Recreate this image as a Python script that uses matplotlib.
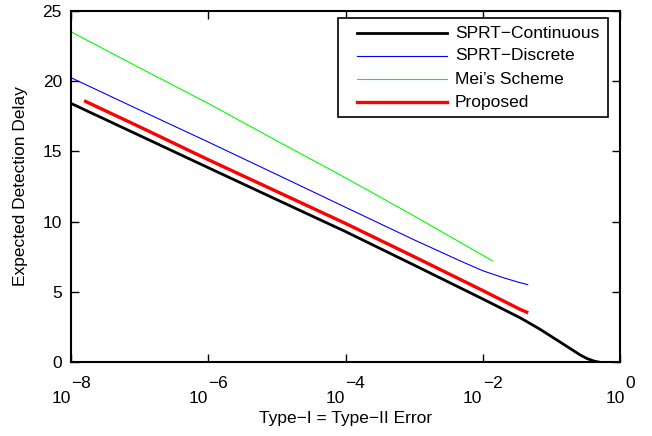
import numpy as np
import matplotlib
matplotlib.use('Agg')
import matplotlib.pyplot as plt
from matplotlib.lines import Line2D
from matplotlib.patches import Rectangle
import matplotlib.ticker as mticker

plt.rcParams['font.family'] = ['Liberation Sans', 'DejaVu Sans']

# ---------------- data ----------------
alpha_cont = [1e-8, 1e-7, 1e-6, 1e-5, 1e-4, 1e-3, 1e-2, 0.02, 0.035, 0.046,
              0.07, 0.12, 0.18, 0.263, 0.33, 0.41, 0.47, 0.5]
delay_cont = [18.42, 16.13, 13.84, 11.56, 9.29, 6.9, 4.49, 3.75, 3.15, 2.82,
              2.3, 1.57, 1.02, 0.5, 0.25, 0.08, 0.01, 0.0]

alpha_disc = [1e-8, 1e-7, 1e-6, 1e-5, 1e-4, 1e-3, 0.0047, 1e-2, 0.02, 0.035, 0.046]
delay_disc = [20.25, 17.95, 15.67, 13.35, 11.02, 8.7, 7.2, 6.5, 6.0, 5.65, 5.5]

alpha_mei = [1e-8, 1e-7, 1e-6, 1e-5, 1e-4, 1e-3, 1e-2, 0.014]
delay_mei = [23.52, 20.95, 18.42, 15.75, 13.12, 10.4, 7.6, 7.2]

alpha_prop = [1.55e-8, 1e-7, 1e-6, 1e-5, 1e-4, 1e-3, 1e-2, 0.035, 0.046]
delay_prop = [18.61, 16.75, 14.41, 12.14, 9.87, 7.5, 5.09, 3.75, 3.5]

series_labels = ['SPRT\u2212Continuous', 'SPRT\u2212Discrete', 'Mei\u2019s Scheme', 'Proposed']
series_colors = ['#000000', '#0000ff', '#00ff00', '#ff0000']
series_widths = [2.0, 0.8, 0.8, 2.4]

xtick_exps = [-8, -6, -4, -2, 0]
yticks = [0, 5, 10, 15, 20, 25]

xlabel = 'Type\u2212I = Type\u2212II Error'
ylabel = 'Expected Detection Delay'

FS = 12.5

# ---------------- figure ----------------
W, H = 652, 436
fig = plt.figure(figsize=(W / 100, H / 100), dpi=100)
ax = fig.add_axes([71 / W, 1 - 362 / H, (620 - 71) / W, (362 - 11) / H])

data = [(alpha_cont, delay_cont), (alpha_disc, delay_disc),
        (alpha_mei, delay_mei), (alpha_prop, delay_prop)]
for (xs, ys), c, lw in zip(data, series_colors, series_widths):
    ax.plot(xs, ys, color=c, lw=lw, solid_capstyle='butt')

ax.set_xscale('log')
ax.set_xlim(1e-8, 1)
ax.set_ylim(0, 25)
ax.set_xticks([10.0 ** e for e in xtick_exps])
ax.xaxis.set_minor_locator(mticker.NullLocator())
ax.set_xticklabels([])
ax.set_yticks(yticks)
ax.set_yticklabels([str(v) for v in yticks], fontsize=FS)
ax.tick_params(direction='in', top=True, right=True, length=5.5, width=1.0, pad=6.5)
ax.tick_params(axis='x', which='both', labelbottom=False)
for s in ax.spines.values():
    s.set_linewidth(1.5)

ax.set_xlabel(xlabel, fontsize=FS)
ax.xaxis.set_label_coords(0.5, -0.141)
ax.set_ylabel(ylabel, fontsize=FS)
ax.yaxis.set_label_coords(-0.078, 0.5)

# x tick labels in MATLAB style: "10" with raised exponent
fig.canvas.draw()
r = fig.canvas.get_renderer()
for e in xtick_exps:
    tx = ax.transData.transform((10.0 ** e, 1))[0]
    t_base = fig.text(0, (H - 403) / H, '10', fontsize=FS, ha='left', va='baseline')
    t_exp = fig.text(0, (H - 388) / H, str(e).replace('-', '\u2212'), fontsize=FS,
                     ha='left', va='baseline')
    wb = t_base.get_window_extent(r).width
    we = t_exp.get_window_extent(r).width
    gap = 0.5
    left = tx - (wb + gap + we) / 2
    t_base.set_x(left / W)
    t_exp.set_x((left + wb + gap) / W)

# legend (MATLAB style box)
def fx(px):
    return px / W

def fy(py):
    return 1 - py / H

box = Rectangle((fx(338), fy(117)), fx(608) - fx(338), fy(18) - fy(117),
                transform=fig.transFigure, facecolor='white', edgecolor='black',
                lw=1.2, zorder=5)
fig.add_artist(box)
rows = [33, 56, 79, 102]
for lab, c, lw, ry in zip(series_labels, series_colors, series_widths, rows):
    fig.add_artist(Line2D([fx(357), fx(447)], [fy(ry), fy(ry)], color=c, lw=lw,
                          transform=fig.transFigure, zorder=6))
    fig.text(fx(455), fy(ry), lab, fontsize=FS, ha='left', va='center', zorder=6)

fig.savefig('out.png', dpi=100)
